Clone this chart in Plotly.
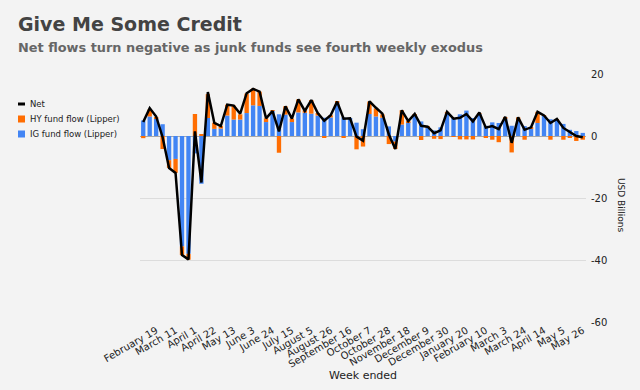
import plotly.graph_objects as go
from datetime import datetime

# ---- data ----
weeks = [
    "2020-02-05", "2020-02-12", "2020-02-19", "2020-02-26", "2020-03-04", "2020-03-11",
    "2020-03-18", "2020-03-25", "2020-04-01", "2020-04-08", "2020-04-15", "2020-04-22",
    "2020-04-29", "2020-05-06", "2020-05-13", "2020-05-20", "2020-05-27", "2020-06-03",
    "2020-06-10", "2020-06-17", "2020-06-24", "2020-07-01", "2020-07-08", "2020-07-15",
    "2020-07-22", "2020-07-29", "2020-08-05", "2020-08-12", "2020-08-19", "2020-08-26",
    "2020-09-02", "2020-09-09", "2020-09-16", "2020-09-23", "2020-09-30", "2020-10-07",
    "2020-10-14", "2020-10-21", "2020-10-28", "2020-11-04", "2020-11-11", "2020-11-18",
    "2020-11-25", "2020-12-02", "2020-12-09", "2020-12-16", "2020-12-23", "2020-12-30",
    "2021-01-06", "2021-01-13", "2021-01-20", "2021-01-27", "2021-02-03", "2021-02-10",
    "2021-02-17", "2021-02-24", "2021-03-03", "2021-03-10", "2021-03-17", "2021-03-24",
    "2021-03-31", "2021-04-07", "2021-04-14", "2021-04-21", "2021-04-28", "2021-05-05",
    "2021-05-12", "2021-05-19", "2021-05-26",
]

ig_flow = [
    5.0, 6.3, 5.7, 3.8, -7.8, -7.4, -35.6, -38.0, -5.6, -15.4,
    5.8, 2.3, 2.4, 6.6, 5.3, 5.3, 7.4, 9.9, 9.7, 4.5,
    8.1, 7.0, 6.9, 4.5, 7.6, 7.5, 7.2, 6.6, 5.9, 6.0,
    10.8, 6.0, 5.8, 4.3, 2.2, 7.1, 6.3, 5.9, 3.1, -1.8,
    3.7, 4.5, 6.7, 4.7, 2.6, 1.8, 2.8, 7.1, 5.8, 7.0,
    8.2, 5.8, 7.1, 3.3, 4.4, 4.2, 5.7, 3.3, 4.8, 3.2,
    2.4, 4.2, 6.5, 5.4, 5.2, 3.9, 2.0, 1.6, 1.0,
]

hy_flow = [
    -0.7, 2.3, 0.4, -4.2, -2.5, -4.5, -2.8, -1.9, 7.1, 0.4,
    7.7, 2.0, 0.8, 3.5, 4.5, 1.7, 6.3, 5.4, 4.6, 1.2,
    0.1, -5.4, 2.7, 1.1, 4.2, 0.8, 4.4, 0.8, -0.5, 0.7,
    0.3, -0.5, 0.0, -4.3, -3.4, 4.0, 2.6, 1.1, -2.6, -2.4,
    4.6, 0.3, 0.4, -1.3, 0.4, -0.9, -1.0, 0.7, -0.2, -1.1,
    -1.1, -1.1, 0.2, -0.6, -1.2, -2.0, 0.3, -5.3, 1.2, -1.2,
    0.4, 3.6, 0.2, -1.2, 0.2, -1.2, -0.6, -1.6, -1.2,
]

net_flow = [
    4.5, 9.0, 6.3, -0.4, -10.3, -11.9, -38.4, -39.8, 1.5, -15.0,
    14.2, 4.2, 3.2, 10.1, 9.8, 7.2, 13.8, 15.2, 14.3, 5.7,
    8.0, 1.5, 9.6, 5.6, 11.8, 8.1, 11.6, 7.4, 4.9, 6.7,
    11.1, 5.6, 5.7, -0.2, -1.5, 11.2, 9.1, 7.2, 0.5, -4.2,
    8.3, 4.8, 7.1, 3.3, 3.0, 0.9, 1.8, 7.8, 5.6, 5.9,
    7.1, 4.7, 7.6, 2.7, 3.2, 2.2, 6.2, -2.2, 6.0, 2.0,
    2.8, 7.8, 6.6, 4.2, 5.5, 2.6, 1.3, 0.0, -0.4,
]

y_ticks = [20, 0, -20, -40, -60]
y_tick_labels = ["20", "0", "-20", "-40", "-60"]

title_text = "Give Me Some Credit"
subtitle_text = "Net flows turn negative as junk funds see fourth weekly exodus"
legend_names = ["Net", "HY fund flow (Lipper)", "IG fund flow (Lipper)"]

# ---- styling ----
BG = "#f3f3f3"
BLUE = "#4285f4"
ORANGE = "#ff6d01"
TXT = "#222222"
FONT = "DejaVu Sans"

W, H = 640, 390
ML, MR, MT, MB = 140, 54, 74, 68
PW, PH = W - ML - MR, H - MT - MB


def px(x):
    return (x - ML) / PW


def py(y):
    return 1 - (y - MT) / PH


tick_idx = list(range(2, len(weeks), 3))
tick_vals = [weeks[i] for i in tick_idx]
tick_text = []
for i in tick_idx:
    d = datetime.strptime(weeks[i], "%Y-%m-%d")
    tick_text.append(d.strftime("%B ") + str(d.day))

fig = go.Figure()
fig.add_trace(go.Bar(x=weeks, y=ig_flow, name=legend_names[2],
                     marker=dict(color=BLUE, line=dict(width=0))))
fig.add_trace(go.Bar(x=weeks, y=hy_flow, name=legend_names[1],
                     marker=dict(color=ORANGE, line=dict(width=0))))
fig.add_trace(go.Scatter(x=weeks, y=net_flow, name=legend_names[0], mode="lines",
                         line=dict(color="black", width=2.5)))

fig.update_layout(
    width=W, height=H,
    margin=dict(l=ML, r=MR, t=MT, b=MB, pad=0, autoexpand=False),
    paper_bgcolor=BG, plot_bgcolor=BG,
    barmode="relative", bargap=0.33,
    showlegend=False,
    font=dict(family=FONT, color=TXT, size=10),
)

fig.update_xaxes(
    type="category", tickmode="array", tickvals=tick_vals, ticktext=tick_text,
    tickangle=-30, tickfont=dict(size=10, color=TXT), showgrid=False,
    ticks="", showline=False, zeroline=False, range=[-0.5, len(weeks) - 0.5],
    automargin=False,
)
fig.update_yaxes(
    side="right", range=[-60, 20], tickmode="array", tickvals=y_ticks,
    ticktext=y_tick_labels, tickfont=dict(size=10, color=TXT),
    showgrid=True, gridcolor="#dcdcdc", gridwidth=1,
    zeroline=True, zerolinecolor="#a8a8a8", zerolinewidth=1,
    ticks="", showline=False, ticklabelstandoff=4, automargin=False,
)

anns = [
    dict(text="<b>" + title_text + "</b>", x=px(16), y=py(24), xref="paper", yref="paper",
         xanchor="left", yanchor="middle", showarrow=False,
         font=dict(family=FONT, size=19, color="#434343")),
    dict(text="<b>" + subtitle_text + "</b>", x=px(16), y=py(47), xref="paper", yref="paper",
         xanchor="left", yanchor="middle", showarrow=False,
         font=dict(family=FONT, size=12.9, color="#666666")),
    dict(text="Week ended", x=0.5, y=py(375), xref="paper", yref="paper",
         xanchor="center", yanchor="middle", showarrow=False,
         font=dict(family=FONT, size=11, color=TXT)),
    dict(text="USD Billions", x=px(621), y=py(205), xref="paper", yref="paper",
         xanchor="center", yanchor="middle", showarrow=False, textangle=90,
         font=dict(family=FONT, size=9, color=TXT)),
]
leg_y = [104, 119, 134]
for name, yy in zip(legend_names, leg_y):
    anns.append(dict(text=name, x=px(28), y=py(yy), xref="paper", yref="paper",
                     xanchor="left", yanchor="middle", showarrow=False,
                     font=dict(family=FONT, size=8.5, color=TXT)))
fig.update_layout(annotations=anns)

shapes = [
    dict(type="line", xref="paper", yref="paper", x0=px(18), x1=px(25),
         y0=py(leg_y[0]), y1=py(leg_y[0]), line=dict(color="black", width=3)),
    dict(type="rect", xref="paper", yref="paper", x0=px(18), x1=px(25),
         y0=py(leg_y[1] - 3.5), y1=py(leg_y[1] + 3.5), fillcolor=ORANGE, line=dict(width=0)),
    dict(type="rect", xref="paper", yref="paper", x0=px(18), x1=px(25),
         y0=py(leg_y[2] - 3.5), y1=py(leg_y[2] + 3.5), fillcolor=BLUE, line=dict(width=0)),
]
fig.update_layout(shapes=shapes)

fig.write_html("out.html", config={"displayModeBar": False},
               post_script="document.body.style.margin='0';")
